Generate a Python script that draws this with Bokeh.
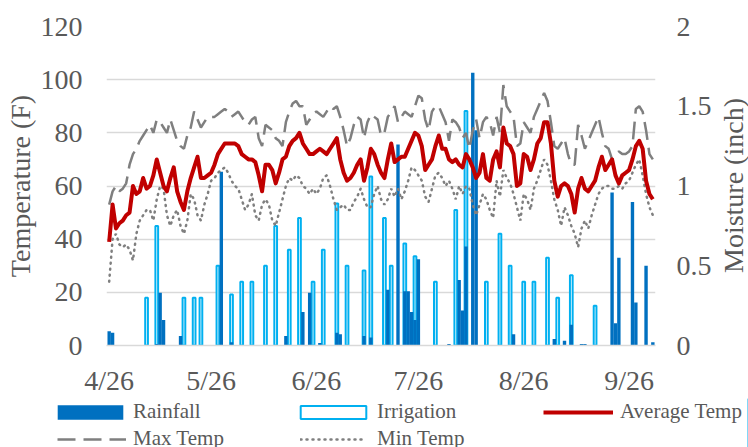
import math
from bokeh.plotting import figure
from bokeh.layouts import row
from bokeh.models import (Range1d, LinearAxis, FixedTicker, NumeralTickFormatter,
                          Legend, LegendItem, Label)
from bokeh.embed import file_html
from bokeh.resources import INLINE

# ---------------- data (day 0 = 4/26) ----------------
tick_days = [0, 30, 61, 91, 122, 153]
tick_labels = ["4/26", "5/26", "6/26", "7/26", "8/26", "9/26"]

avg_temp = [39, 53, 44, 46, 47, 49, 50, 60, 57, 58,
            63, 59, 60, 64, 70, 65, 60, 58, 63, 67,
            58, 54, 51, 58, 63, 67, 71, 63, 63, 64,
            65, 68, 72, 74, 76, 76, 76, 76, 75, 72,
            71, 70, 70, 69, 64, 58, 68, 68, 66, 61,
            65, 70, 71, 75, 77, 78, 80, 76, 74, 72,
            72, 73, 74, 73, 72, 74, 76, 78, 70, 65,
            62, 63, 65, 68, 70, 62, 67, 74, 72, 68,
            65, 63, 70, 76, 69, 70, 71, 71, 74, 77,
            80, 79, 75, 66, 68, 70, 75, 79, 74, 74,
            70, 69, 70, 68, 67, 72, 70, 67, 63, 65,
            72, 63, 62, 70, 73, 67, 82, 76, 75, 72,
            60, 61, 72, 71, 66, 70, 76, 78, 84, 84,
            76, 62, 56, 60, 61, 60, 57, 50, 59, 63,
            59, 58, 60, 62, 67, 71, 66, 68, 70, 64,
            61, 64, 65, 66, 70, 75, 77, 74, 62, 57,
            55]

max_temp = [53, 58, 60, 58, 59, 61, 68, 72, 74, 77,
            79, 81, 83, 80, 85, 84, 82, 80, 85, 81,
            77, 75, 74, 79, 82, 88, 85, 82, 84, 86,
            86, 86, 87, 88, 89, 88, 86, 87, 88, 86,
            84, 83, 85, 86, 78, 75, 83, 82, 81, 78,
            77, 75, 84, 88, 91, 92, 90, 90, 83, 85,
            87, 88, 87, 86, 88, 90, 89, 90, 86, 81,
            75, 78, 83, 86, 85, 78, 84, 87, 86, 85,
            79, 80, 86, 88, 90, 84, 86, 88, 87, 86,
            90, 94, 93, 85, 81, 88, 90, 90, 87, 84,
            77, 85, 84, 82, 78, 80, 74, 81, 85, 78,
            84, 86, 84, 79, 86, 80, 98, 90, 88, 86,
            75, 76, 84, 82, 80, 86, 89, 92, 95, 92,
            84, 75, 74, 76, 78, 72, 68, 68, 83, 79,
            74, 77, 80, 83, 86, 80, 75, 74, 70, 72,
            73, 72, 72, 73, 75, 89, 90, 88, 81, 72,
            70]

min_temp = [24, 40, 42, 38, 37, 38, 36, 32, 42, 47,
            49, 51, 51, 47, 55, 60, 59, 49, 45, 49,
            51, 45, 42, 47, 57, 55, 49, 47, 53, 57,
            62, 63, 65, 66, 67, 65, 62, 60, 59, 55,
            51, 53, 57, 49, 47, 53, 55, 53, 47, 45,
            50, 55, 60, 63, 62, 64, 63, 60, 59, 57,
            59, 57, 59, 63, 64, 60, 55, 51, 52, 53,
            51, 51, 54, 56, 59, 55, 52, 52, 57, 60,
            55, 53, 55, 59, 56, 59, 55, 58, 62, 67,
            66, 64, 62, 56, 54, 59, 64, 65, 63, 60,
            62, 59, 55, 60, 57, 60, 59, 53, 49, 53,
            57, 55, 51, 48, 62, 56, 66, 63, 61, 57,
            52, 47, 57, 55, 51, 59, 62, 66, 70, 68,
            62, 55, 51, 45, 52, 49, 45, 42, 37, 44,
            47, 44, 49, 53, 57, 59, 60, 60, 59, 59,
            60, 59, 61, 62, 65, 68, 70, 64, 57, 52,
            49]

days = list(range(len(avg_temp)))

rain_day = [0, 1, 14, 15, 16, 21, 33, 36, 52, 57, 59, 62, 67, 68, 75, 77,
            82, 85, 87, 88, 89, 90, 91, 100, 103, 104, 105, 107, 108, 119,
            131, 134, 136, 139, 140, 148, 149, 150, 154, 155, 158, 160]
rain_in = [0.09, 0.08, 0.01, 0.33, 0.16, 0.06, 1.09, 0.02, 0.06, 0.21, 0.33, 0.015, 0.08, 0.07, 0.06, 0.05,
           0.35, 1.26, 0.34, 0.34, 0.21, 0.16, 0.54, 0.01, 0.41, 0.22, 0.62, 1.71, 1.35, 0.07,
           0.04, 0.03, 0.13, 0.01, 0.01, 0.96, 0.14, 0.55, 0.90, 0.27, 0.50, 0.02]

irr_day = [11, 14, 22, 25, 27, 32, 36, 39, 42, 46, 49, 53, 56, 60, 63, 67, 70, 75, 77,
           81, 83, 87, 90, 96, 102, 105, 111, 115, 118, 122, 125, 129, 132, 136, 143]
irr_in = [0.30, 0.75, 0.30, 0.30, 0.30, 0.50, 0.32, 0.40, 0.40, 0.50, 0.75, 0.60, 0.80, 0.40, 0.60, 0.89, 0.50, 0.47, 1.06,
          0.80, 0.50, 0.64, 0.56, 0.40, 0.85, 1.47, 0.40, 0.70, 0.50, 0.40, 0.40, 0.55, 0.30, 0.44, 0.25]

# ---------------- styling ----------------
FONT = "Liberation Serif"
TXT = "#595959"
GRID = "#D9D9D9"
RAIN_C = "#0070C0"
IRR_C = "#00B0F0"
AVG_C = "#C00000"
GRAY = "#7F7F7F"

# ---------------- main chart ----------------
p = figure(width=714, height=398, output_backend="svg", toolbar_location=None,
           x_range=Range1d(-0.79, 160.78), y_range=Range1d(0, 120),
           min_border_left=106, min_border_right=58, min_border_top=26, min_border_bottom=51,
           background_fill_color="white", border_fill_color="white")
p.outline_line_color = None
p.xgrid.visible = False
p.ygrid.grid_line_color = GRID
p.ygrid.grid_line_width = 1.5
p.ygrid.ticker = FixedTicker(ticks=[0, 20, 40, 60, 80, 100, 120])

p.extra_y_ranges = {"m": Range1d(0, 2)}

def style_axis(ax):
    ax.major_tick_line_color = None
    ax.minor_tick_line_color = None
    ax.major_tick_out = 0
    ax.major_tick_in = 0
    ax.minor_tick_out = 0
    ax.minor_tick_in = 0
    ax.major_label_text_font = FONT
    ax.major_label_text_font_size = "28px"
    ax.major_label_text_color = TXT
    ax.axis_label_text_font = FONT
    ax.axis_label_text_font_size = "28px"
    ax.axis_label_text_font_style = "normal"
    ax.axis_label_text_color = TXT

xa = p.xaxis[0]
style_axis(xa)
xa.ticker = FixedTicker(ticks=tick_days)
xa.major_label_overrides = {d: lab for d, lab in zip(tick_days, tick_labels)}
xa.axis_line_color = GRID
xa.axis_line_width = 1.5
xa.major_label_standoff = 19

ya = p.yaxis[0]
style_axis(ya)
ya.ticker = FixedTicker(ticks=[0, 20, 40, 60, 80, 100, 120])
ya.axis_line_color = None
ya.axis_label = "Temperature (F)"
ya.major_label_standoff = 24
ya.axis_label_standoff = 2

ra = LinearAxis(y_range_name="m", ticker=FixedTicker(ticks=[0, 0.5, 1, 1.5, 2]),
                formatter=NumeralTickFormatter(format="0.[0]"))
style_axis(ra)
ra.axis_line_color = None
ra.major_label_standoff = 21
p.add_layout(ra, "right")

r_irr = p.vbar(x=irr_day, top=irr_in, width=0.8, bottom=0, y_range_name="m",
               fill_color="white", line_color=IRR_C, line_width=2)
r_rain = p.vbar(x=rain_day, top=rain_in, width=1.0, bottom=0, y_range_name="m",
                fill_color=RAIN_C, line_color=None)
r_min = p.line(days, min_temp, line_color=GRAY, line_width=2.5,
               line_dash="1 5", line_cap="round")
r_max = p.line(days, max_temp, line_color=GRAY, line_width=2.5, line_dash="18 8")
r_avg = p.line(days, avg_temp, line_color=AVG_C, line_width=4, line_join="round")

# ---------------- right-hand axis title strip ----------------
tfig = figure(width=34, height=398, output_backend="svg", toolbar_location=None,
              x_range=Range1d(0, 1), y_range=Range1d(0, 1),
              x_axis_location=None, y_axis_location=None,
              min_border_left=0, min_border_right=0, min_border_top=26, min_border_bottom=51,
              background_fill_color="white", border_fill_color="white")
tfig.outline_line_color = None
tfig.grid.visible = False
tfig.add_layout(Label(x=19, y=160, x_units="screen", y_units="screen",
                      text="Moisture (inch)", angle=math.pi / 2,
                      text_align="center", text_baseline="middle",
                      text_font=FONT, text_font_size="28px", text_color=TXT))

# ---------------- legend strip ----------------
lg_fig = figure(width=748, height=49, output_backend="svg", toolbar_location=None,
                x_range=Range1d(0, 1), y_range=Range1d(0, 1),
                x_axis_location=None, y_axis_location=None,
                min_border_left=0, min_border_right=0, min_border_top=0, min_border_bottom=0,
                background_fill_color="white", border_fill_color="white")
lg_fig.outline_line_color = None
lg_fig.grid.visible = False

# key glyphs (kept outside the visible range; only their legend swatches show)
k_rain = lg_fig.vbar(x=[5], top=[1], width=1, fill_color=RAIN_C, line_color=None)
k_irr = lg_fig.vbar(x=[5], top=[1], width=1, fill_color="white", line_color=IRR_C, line_width=2)
k_avg = lg_fig.line(x=[5, 6], y=[0, 0], line_color=AVG_C, line_width=4)
k_max = lg_fig.line(x=[5, 6], y=[0, 0], line_color=GRAY, line_width=2.5, line_dash="18 8")
k_min = lg_fig.line(x=[5, 6], y=[0, 0], line_color=GRAY, line_width=2.5,
                    line_dash="1 5", line_cap="round")

def add_legend(label, rends, x, y, gw, gh, standoff):
    lg = Legend(items=[LegendItem(label=label, renderers=rends)], location=(x, y),
                orientation="horizontal", glyph_width=gw, glyph_height=gh,
                label_standoff=standoff, label_text_font=FONT,
                label_text_font_size="21px", label_text_color=TXT,
                border_line_color=None, background_fill_alpha=0,
                padding=0, margin=0, spacing=0, label_height=20)
    lg_fig.add_layout(lg)

add_legend("Rainfall", [k_rain], 49, 23, 82, 18, 2)
add_legend("Irrigation", [k_irr], 292, 23, 82, 16, 3)
add_legend("Average Temp", [k_avg], 543, 23, 70, 18, 7)
add_legend("Max Temp", [k_max], 57, -4, 69, 18, 7)
add_legend("Min Temp", [k_min], 300, -4, 65, 18, 12)

top_row = row(p, tfig, spacing=0)
open("out.html", "w").write(file_html([top_row, lg_fig], INLINE))
